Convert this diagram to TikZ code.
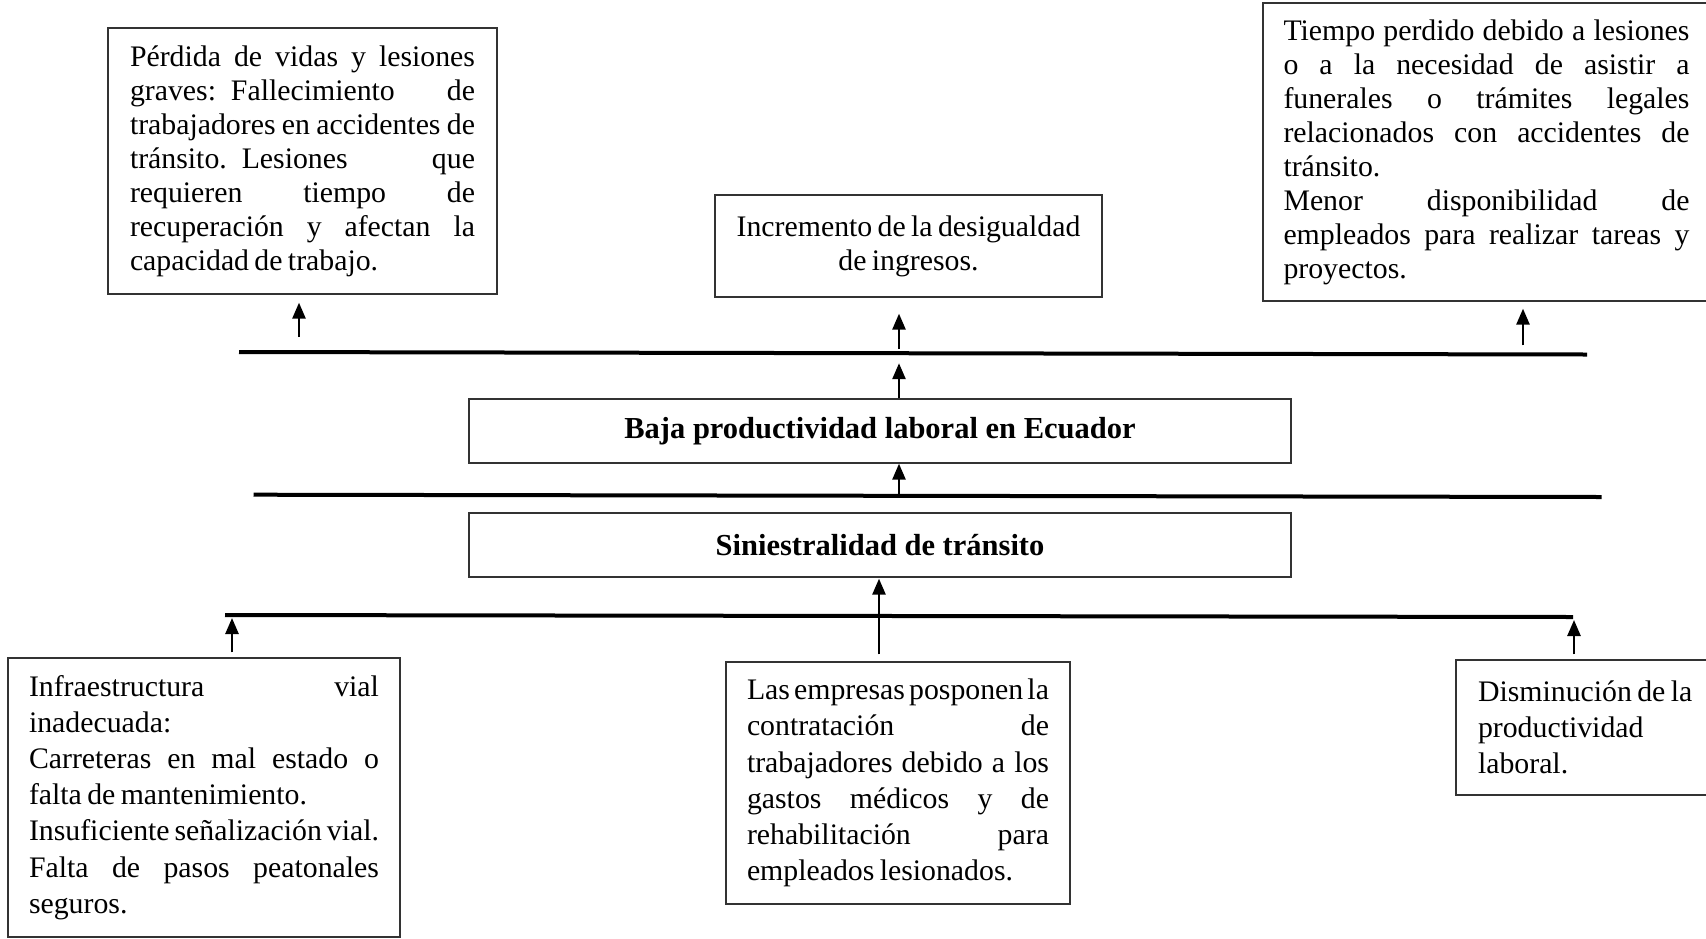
\documentclass[tikz,border=0pt]{standalone}
\usepackage{fontspec}
\setmainfont{Liberation Serif}
\usetikzlibrary{arrows.meta}
\newcommand\JLine[1]{\hbox to \hsize{\spaceskip=.18em plus 2em minus .07em\relax #1}}
\newcommand\FLine[1]{\hbox{\spaceskip=.18em\relax #1}}
\newcommand\CLine[1]{\hbox to \hsize{\hss\spaceskip=.18em\relax #1\hss}}
\newcommand\UpFont{\fontsize{29.8}{34}\selectfont}
\newcommand\LowFont{\fontsize{29.8}{36.2}\selectfont}
\newcommand\MainFont{\fontsize{30.5}{34}\selectfont\bfseries}
\begin{document}
\begin{tikzpicture}[x=1pt,y=-1pt,
  box/.style={draw=black!80, line width=1.3pt, inner ysep=0pt, font=\UpFont},
  lowbox/.style={draw=black!80, line width=1.3pt, inner ysep=0pt, font=\LowFont},
  mainbox/.style={draw=black!80, line width=1.3pt, minimum width=822pt, minimum height=64pt,
    inner sep=0pt, font=\MainFont},
  arr/.style={-{Triangle[length=16pt,width=13pt]}, line width=2.6pt},
  bar/.style={line width=4pt}]
\useasboundingbox (0,0) rectangle (1706,938);

% effect boxes
\node[box, text width=345pt, inner xsep=22pt, minimum height=266pt] (perdida) at (302.5,161) {%
\JLine{Pérdida de vidas y lesiones}
\JLine{graves: Fallecimiento de}
\JLine{trabajadores en accidentes de}
\JLine{tránsito. Lesiones que}
\JLine{requieren tiempo de}
\JLine{recuperación y afectan la}
\FLine{capacidad de trabajo.}};

\node[box, text width=350pt, inner xsep=18.5pt, minimum height=102pt] (incremento) at (908.5,246) {%
\CLine{Incremento de la desigualdad}
\CLine{de ingresos.}};

\node[box, text width=406pt, inner xsep=20.5pt, minimum height=298pt] (tiempo) at (1486.5,152) {%
\JLine{Tiempo perdido debido a lesiones}
\JLine{o a la necesidad de asistir a}
\JLine{funerales o trámites legales}
\JLine{relacionados con accidentes de}
\FLine{tránsito.}
\JLine{Menor disponibilidad de}
\JLine{empleados para realizar tareas y}
\FLine{proyectos.}};

% central boxes
\node[mainbox] (baja) at (880,431) {Baja productividad laboral en Ecuador};
\node[mainbox] (sin) at (880,545) {Siniestralidad de tránsito};

% cause boxes
\node[lowbox, text width=350pt, inner xsep=21pt, minimum height=279pt] (infra) at (204,797.5) {%
\JLine{Infraestructura vial}
\FLine{inadecuada:}
\JLine{Carreteras en mal estado o}
\FLine{falta de mantenimiento.}
\JLine{Insuficiente señalización vial.}
\JLine{Falta de pasos peatonales}
\FLine{seguros.}};

\node[lowbox, text width=302pt, inner xsep=21pt, minimum height=242pt] (empresas) at (898,783) {%
\JLine{Las empresas posponen la}
\JLine{contratación de}
\JLine{trabajadores debido a los}
\JLine{gastos médicos y de}
\JLine{rehabilitación para}
\FLine{empleados lesionados.}};

\node[lowbox, text width=210pt, inner xsep=22pt, minimum height=135pt] (dismin) at (1583,727.5) {%
\FLine{Disminución de la}
\FLine{productividad}
\FLine{laboral.}};

% bars
\coordinate (l1w) at (239,352);
\coordinate (l1e) at (1587,354.5);
\coordinate (l2w) at (253.5,494.7);
\coordinate (l2e) at (1601.5,497);
\coordinate (l3w) at (225,615);
\coordinate (l3e) at (1573,617);
\draw[bar] (l1w) -- (l1e);
\draw[bar] (l2w) -- (l2e);
\draw[bar] (l3w) -- (l3e);

% points on bars
\coordinate (c1) at (299,352.1);
\coordinate (c2) at (899,353.2);
\coordinate (c8) at (1523,354.4);
\coordinate (c4) at (899,495.8);
\coordinate (c5) at (879,616);
\coordinate (c6) at (232,615);
\coordinate (c7) at (1574,617);

% arrows
\draw[arr, shorten <=15pt, shorten >=8pt] (c1) -- (c1 |- perdida.south);
\draw[arr, shorten <=4pt, shorten >=16pt] (c2) -- (c2 |- incremento.south);
\draw[arr, shorten <=9pt, shorten >=7pt] (c8) -- (c8 |- tiempo.south);
\draw[arr, shorten >=10pt] (c2 |- baja.north) -- (c2);
\draw[arr] (c4) -- (c4 |- baja.south);
\draw[arr, shorten <=7pt, shorten >=1pt] (c5 |- empresas.north) -- (c5 |- sin.south);
\draw[arr, shorten <=5pt, shorten >=3pt] (c6 |- infra.north) -- (c6);
\draw[arr, shorten <=5pt, shorten >=3pt] (c7 |- dismin.north) -- (c7);
\end{tikzpicture}
\end{document}
